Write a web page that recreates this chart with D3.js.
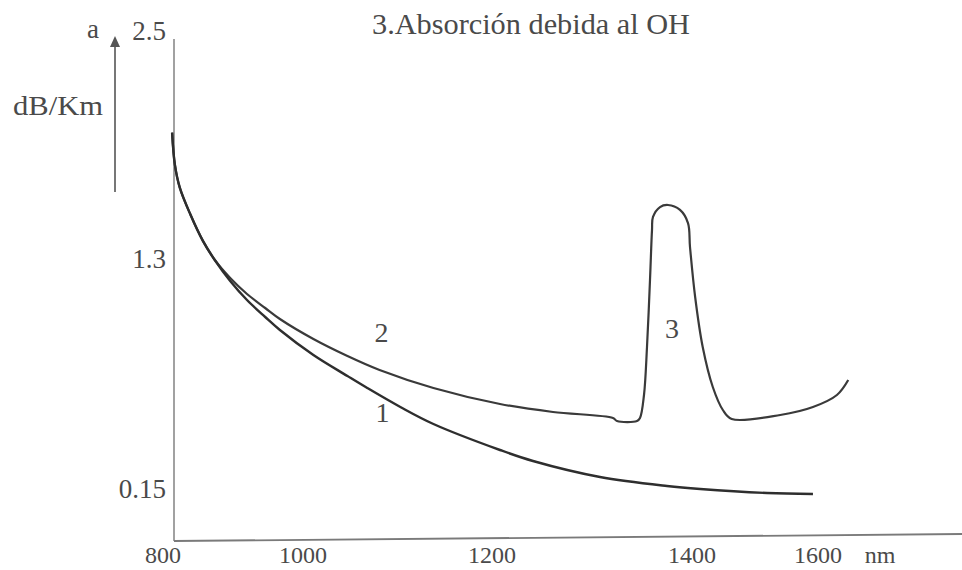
<!DOCTYPE html>
<html>
<head>
<meta charset="utf-8">
<script src="https://cdn.jsdelivr.net/npm/d3@7"></script>
<style>
  body { margin: 0; background: #fff; }
</style>
</head>
<body>
<div id="chart"></div>
<script>
// tick labels (hand drawn axis, spacing is not uniform)
var xTicks = [800, 1000, 1200, 1400, 1600];
var yTicks = [0.15, 1.3, 2.5];

// curve 1: fibre without OH
var curve1Nm = [813, 817, 824, 839, 857, 874, 896, 920, 946, 967, 1011, 1047, 1068, 1103, 1138, 1208, 1241, 1308, 1375, 1413, 1519, 1592];
var curve1Db = [1.96, 1.79, 1.67, 1.53, 1.39, 1.29, 1.185, 1.09, 1.005, 0.94, 0.815, 0.71, 0.65, 0.555, 0.47, 0.34, 0.285, 0.205, 0.16, 0.145, 0.125, 0.12];

// curve 2 (+ peak 3): with OH absorption
var curve2Nm = [813, 817, 824, 839, 857, 874, 896, 920, 946, 967, 1011, 1047, 1081, 1138, 1208, 1261, 1321, 1325, 1345, 1348, 1352, 1355, 1358, 1360, 1361, 1368, 1376, 1388, 1396, 1398, 1405, 1417, 1433, 1449, 1463, 1540, 1592, 1630, 1648];
var curve2Db = [1.96, 1.79, 1.67, 1.53, 1.39, 1.29, 1.20, 1.12, 1.05, 0.995, 0.895, 0.81, 0.74, 0.65, 0.57, 0.53, 0.50, 0.485, 0.485, 0.50, 0.615, 0.855, 1.19, 1.447, 1.516, 1.568, 1.579, 1.553, 1.484, 1.358, 1.105, 0.855, 0.655, 0.54, 0.495, 0.515, 0.555, 0.615, 0.69];

var curveLabels = ["1", "2", "3"];
var labelNm = [1084, 1083, 1380];
var labelDb = [0.48, 0.88, 0.90];

var width = 962, height = 570;
var serif = '"Liberation Serif", "Times New Roman", Times, "DejaVu Serif", serif';

var svg = d3.select("#chart").append("svg")
    .attr("width", width)
    .attr("height", height)
    .style("font-family", serif);

// piecewise scales, matching the uneven tick spacing of the drawing
var x = d3.scaleLinear().domain(xTicks).range([163, 303, 492, 692, 818]);
var y = d3.scaleLinear().domain(yTicks).range([488, 258, 30]);

var axisX = 174, axisBottom = 541;

function label(px, py, str, size, anchor) {
    return svg.append("text")
        .attr("x", px).attr("y", py)
        .attr("text-anchor", anchor || "start")
        .attr("font-family", serif)
        .attr("fill", "#4a4a4a")
        .style("font-size", size + "px")
        .text(str);
}

// axes
svg.append("line")
    .attr("x1", axisX).attr("y1", 39)
    .attr("x2", axisX).attr("y2", axisBottom)
    .attr("stroke", "#8a8a8a").attr("stroke-width", 1.6);

svg.append("line")
    .attr("x1", axisX).attr("y1", axisBottom)
    .attr("x2", width).attr("y2", axisBottom - 7)
    .attr("stroke", "#7a7a7a").attr("stroke-width", 1.8);

// y tick labels
yTicks.forEach(function (d) {
    label(166, y(d), d, 27, "end").attr("dy", "0.36em");
});

// x tick labels
xTicks.forEach(function (d) {
    label(x(d), 563, d, 24, "middle");
});
label(880, 563, "nm", 24, "middle");

// unit arrow
svg.append("line")
    .attr("x1", 115).attr("y1", 192)
    .attr("x2", 115).attr("y2", 46)
    .attr("stroke", "#555").attr("stroke-width", 1.6);
svg.append("path")
    .attr("d", "M115,36 L110,47 L120,47 Z")
    .attr("fill", "#555");

label(93, 38, "a", 27, "middle");
label(13, 115, "dB/Km", 28)
    .attr("textLength", 90).attr("lengthAdjust", "spacingAndGlyphs");

// title
label(372, 34, "3.Absorción debida al OH", 29)
    .attr("textLength", 318).attr("lengthAdjust", "spacingAndGlyphs");

// curves
var line = d3.line()
    .x(function (d) { return x(d[0]); })
    .y(function (d) { return y(d[1]); })
    .curve(d3.curveCatmullRom.alpha(0.5));

svg.append("path")
    .datum(d3.zip(curve2Nm, curve2Db))
    .attr("d", line)
    .attr("fill", "none")
    .attr("stroke", "#3a3a3a")
    .attr("stroke-width", 2.2);

svg.append("path")
    .datum(d3.zip(curve1Nm, curve1Db))
    .attr("d", line)
    .attr("fill", "none")
    .attr("stroke", "#2e2e2e")
    .attr("stroke-width", 2.4);

// curve numbers
curveLabels.forEach(function (d, i) {
    label(x(labelNm[i]), y(labelDb[i]), d, 28, "middle");
});
</script>
</body>
</html>
